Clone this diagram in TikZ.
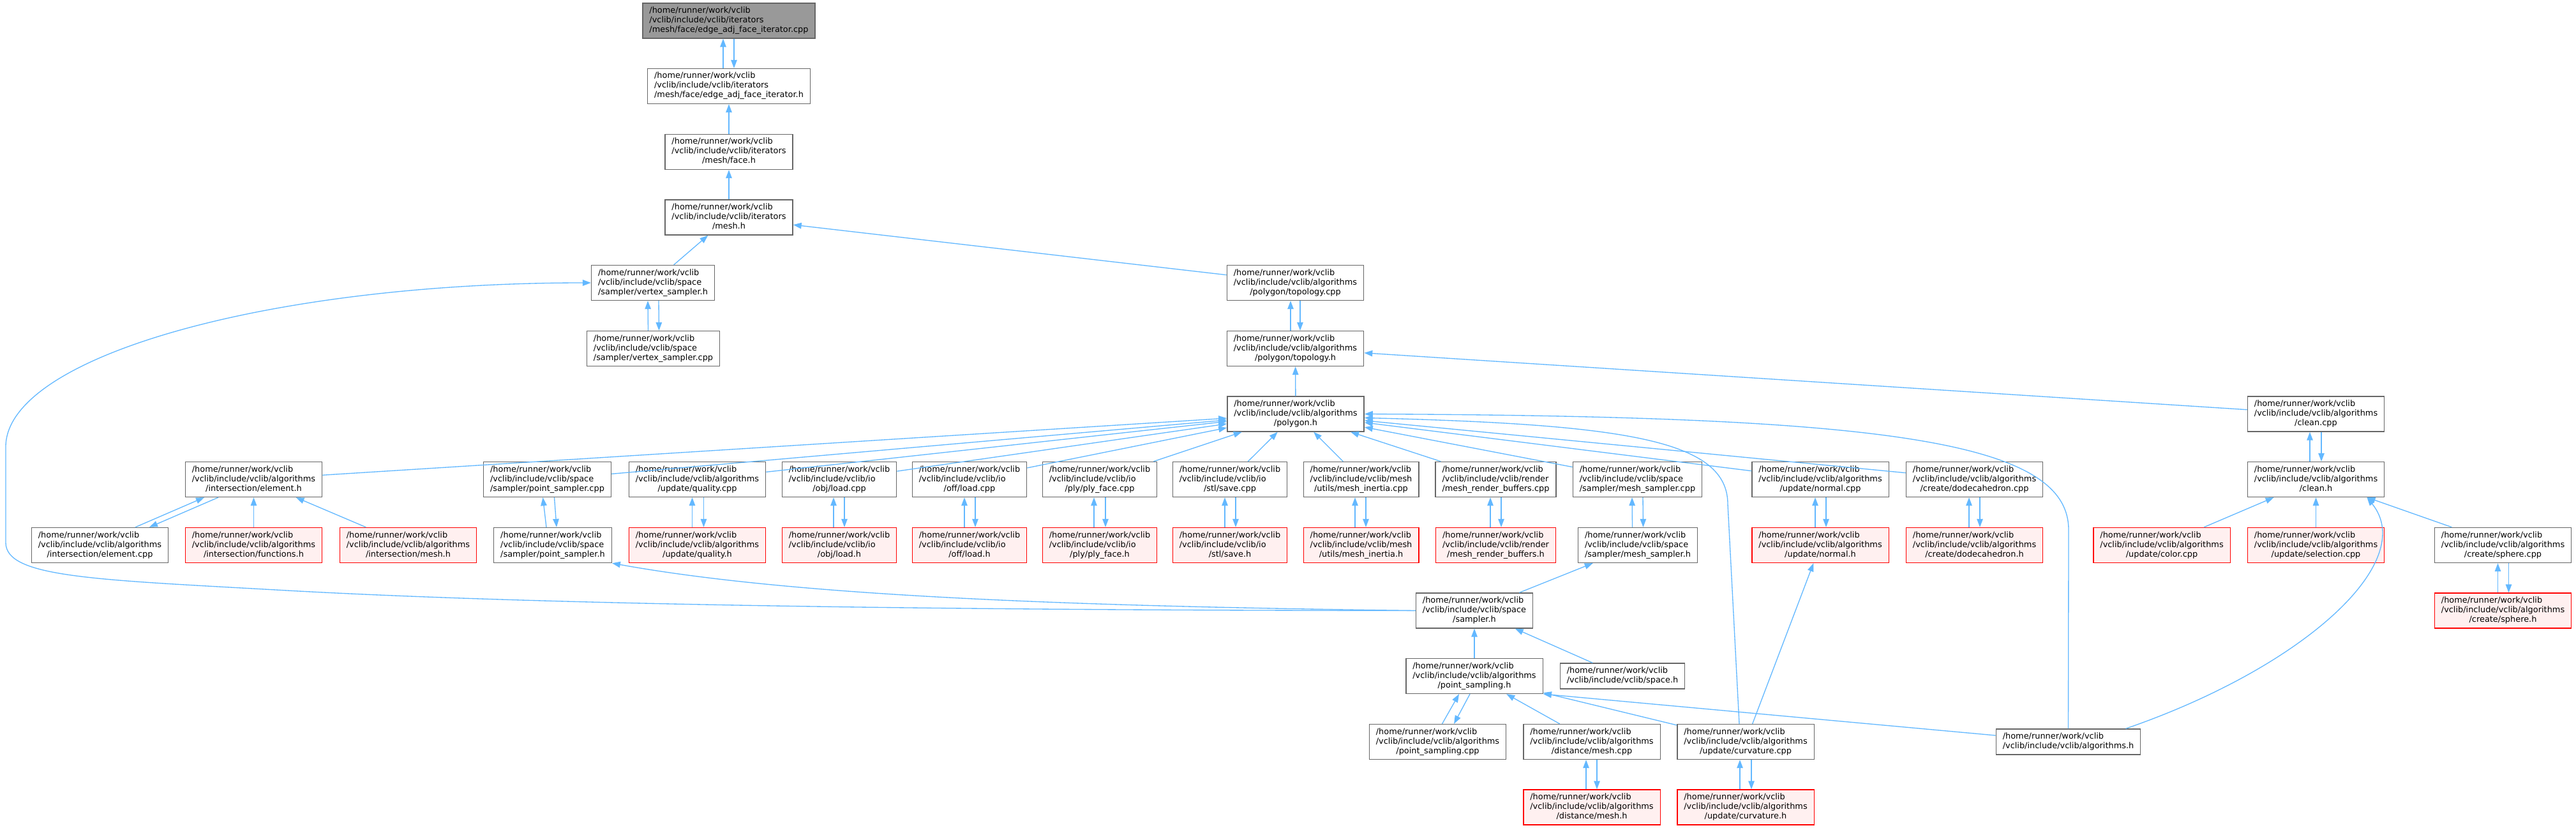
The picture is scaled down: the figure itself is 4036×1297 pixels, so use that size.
\documentclass[tikz,border=0pt]{standalone}
\usepackage{fontspec}
\setmainfont{DejaVu Sans}
\usepackage{tikz}
\usetikzlibrary{arrows.meta}
\definecolor{edgeblue}{HTML}{63B8FF}
\definecolor{boxgray}{HTML}{666666}
\definecolor{curgray}{HTML}{999999}
\definecolor{redfill}{HTML}{FFF0F0}
\newcommand{\filefont}{\fontsize{12.9}{15}\selectfont}
\newcommand{\vpath}[2]{\begin{tabular}{@{}l@{}}/home/runner/work/vclib\\/vclib/include/vclib/#1\\\multicolumn{1}{@{}c@{}}{#2}\end{tabular}}
\newcommand{\vshort}[1]{\begin{tabular}{@{}l@{}}/home/runner/work/vclib\\/vclib/include/vclib/#1\end{tabular}}

\begin{document}
\begin{tikzpicture}[x=1pt,y=-1pt,>={Triangle[length=13pt,width=9.5pt]},
    file/.style={draw=boxgray,fill=white,line width=1.33pt,inner xsep=10.5pt,inner ysep=5pt,font=\filefont},
    redfile/.style={file,draw=red,fill=redfill},
    curfile/.style={file,fill=curgray},
    inc/.style={draw=edgeblue,line width=1.33pt}]
    \useasboundingbox (0,0) rectangle (4036,1297);
    % iterator chain
    \node[curfile] (cpp) at (1142,32.5) {\vpath{iterators}{/mesh/face/edge\_adj\_face\_iterator.cpp}};
    \node[file] (iterh) at (1142,135) {\vpath{iterators}{/mesh/face/edge\_adj\_face\_iterator.h}};
    \node[file] (faceh) at (1142,238) {\vpath{iterators}{/mesh/face.h}};
    \node[file] (meshh) at (1142,340.5) {\vpath{iterators}{/mesh.h}};
    \node[file] (vsamph) at (1023,443) {\vpath{space}{/sampler/vertex\_sampler.h}};
    \node[file] (vsampcpp) at (1023.5,546) {\vpath{space}{/sampler/vertex\_sampler.cpp}};
    \node[file] (topocpp) at (2029.5,443) {\vpath{algorithms}{/polygon/topology.cpp}};
    \node[file] (topoh) at (2029.5,546) {\vpath{algorithms}{/polygon/topology.h}};
    \node[file] (polyh) at (2030,648.5) {\vpath{algorithms}{/polygon.h}};
    \node[file] (cleancpp) at (3628.5,648.5) {\vpath{algorithms}{/clean.cpp}};
    % files including polygon.h
    \node[file] (elemh) at (397.5,751) {\vpath{algorithms}{/intersection/element.h}};
    \node[file] (psampcpp) at (857.5,751) {\vpath{space}{/sampler/point\_sampler.cpp}};
    \node[file] (qualcpp) at (1092.5,751) {\vpath{algorithms}{/update/quality.cpp}};
    \node[file] (objcpp) at (1315,751) {\vpath{io}{/obj/load.cpp}};
    \node[file] (offcpp) at (1519,751) {\vpath{io}{/off/load.cpp}};
    \node[file] (plycpp) at (1723,751) {\vpath{io}{/ply/ply\_face.cpp}};
    \node[file] (stlcpp) at (1927,751) {\vpath{io}{/stl/save.cpp}};
    \node[file] (inertcpp) at (2132.5,751) {\vpath{mesh}{/utils/mesh\_inertia.cpp}};
    \node[file] (rendcpp) at (2343.5,751) {\vpath{render}{/mesh\_render\_buffers.cpp}};
    \node[file] (msampcpp) at (2565.5,751) {\vpath{space}{/sampler/mesh\_sampler.cpp}};
    \node[file] (normcpp) at (2852,751) {\vpath{algorithms}{/update/normal.cpp}};
    \node[file] (dodecpp) at (3093.5,751) {\vpath{algorithms}{/create/dodecahedron.cpp}};
    \node[file] (cleanh) at (3628.5,751) {\vpath{algorithms}{/clean.h}};
    % headers
    \node[file] (elemcpp) at (156.5,854) {\vpath{algorithms}{/intersection/element.cpp}};
    \node[redfile] (funch) at (397.5,854) {\vpath{algorithms}{/intersection/functions.h}};
    \node[redfile] (imeshh) at (639.5,854) {\vpath{algorithms}{/intersection/mesh.h}};
    \node[file] (psamph) at (866,854) {\vpath{space}{/sampler/point\_sampler.h}};
    \node[redfile] (qualh) at (1092.5,854) {\vpath{algorithms}{/update/quality.h}};
    \node[redfile] (objh) at (1315,854) {\vpath{io}{/obj/load.h}};
    \node[redfile] (offh) at (1519,854) {\vpath{io}{/off/load.h}};
    \node[redfile] (plyh) at (1723,854) {\vpath{io}{/ply/ply\_face.h}};
    \node[redfile] (stlh) at (1927,854) {\vpath{io}{/stl/save.h}};
    \node[redfile] (inerth) at (2132.5,854) {\vpath{mesh}{/utils/mesh\_inertia.h}};
    \node[redfile] (rendh) at (2343.5,854) {\vpath{render}{/mesh\_render\_buffers.h}};
    \node[file] (msamph) at (2566,854) {\vpath{space}{/sampler/mesh\_sampler.h}};
    \node[redfile] (normh) at (2852,854) {\vpath{algorithms}{/update/normal.h}};
    \node[redfile] (dodeh) at (3093.5,854) {\vpath{algorithms}{/create/dodecahedron.h}};
    \node[redfile] (colorcpp) at (3387,854) {\vpath{algorithms}{/update/color.cpp}};
    \node[redfile] (selcpp) at (3628.5,854) {\vpath{algorithms}{/update/selection.cpp}};
    \node[file] (spherecpp) at (3921.5,854) {\vpath{algorithms}{/create/sphere.cpp}};
    \node[file] (samplerh) at (2310,956.5) {\vpath{space}{/sampler.h}};
    \node[redfile] (sphereh) at (3921.5,956.5) {\vpath{algorithms}{/create/sphere.h}};
    \node[file] (psamplingh) at (2310,1059) {\vpath{algorithms}{/point\_sampling.h}};
    \node[file] (spaceh) at (2542,1059) {\vshort{space.h}};
    \node[file] (psamplingcpp) at (2252.5,1162) {\vpath{algorithms}{/point\_sampling.cpp}};
    \node[file] (distcpp) at (2494,1162) {\vpath{algorithms}{/distance/mesh.cpp}};
    \node[file] (curvcpp) at (2735,1162) {\vpath{algorithms}{/update/curvature.cpp}};
    \node[file] (algh) at (3240.5,1162) {\vshort{algorithms.h}};
    \node[redfile] (disth) at (2494,1264.5) {\vpath{algorithms}{/distance/mesh.h}};
    \node[redfile] (curvh) at (2735,1264.5) {\vpath{algorithms}{/update/curvature.h}};

    % upper part
    \draw[inc,<-] ([xshift=-9pt]cpp.south) -- ([xshift=-9pt]iterh.north);
    \draw[inc,->] ([xshift=8pt]cpp.south) -- ([xshift=8pt]iterh.north);
    \draw[inc,<-] (iterh) -- (faceh);
    \draw[inc,<-] (faceh) -- (meshh);
    \draw[inc,<-] (meshh) -- (vsamph);
    \draw[inc,<-] (meshh) -- (topocpp);
    \draw[inc,<-] ([xshift=-8pt]vsamph.south) -- ([xshift=-8pt]vsampcpp.north);
    \draw[inc,->] ([xshift=9pt]vsamph.south) -- ([xshift=9pt]vsampcpp.north);
    \draw[inc,<-] (vsamph.west) .. controls (421,443) and (9,559) .. (9,700) -- (9,850)
        .. controls (9,905) and (150,908) .. (450,925) .. controls (900,950) and (1600,956) .. (samplerh.west);
    \draw[inc,<-] ([xshift=-7.5pt]topocpp.south) -- ([xshift=-7.5pt]topoh.north);
    \draw[inc,->] ([xshift=7.5pt]topocpp.south) -- ([xshift=7.5pt]topoh.north);
    \draw[inc,<-] (topoh) -- (polyh);
    \draw[inc,<-] (topoh) -- (cleancpp);

    % polygon.h
    \draw[inc,<-] (polyh) -- (elemh);
    \draw[inc,<-] (polyh) -- (psampcpp);
    \draw[inc,<-] (polyh) -- (qualcpp);
    \draw[inc,<-] (polyh) -- (objcpp);
    \draw[inc,<-] (polyh) -- (offcpp);
    \draw[inc,<-] (polyh) -- (plycpp);
    \draw[inc,<-] (polyh) -- (stlcpp);
    \draw[inc,<-] (polyh) -- (inertcpp);
    \draw[inc,<-] (polyh) -- (rendcpp);
    \draw[inc,<-] (polyh) -- (msampcpp);
    \draw[inc,<-] (polyh) -- (normcpp);
    \draw[inc,<-] (polyh) -- (dodecpp);
    \draw[inc,<-] ([yshift=-6pt]polyh.east) .. controls (2550,665) and (2707,690) .. (2707,790) -- ([xshift=-10pt]curvcpp.north);
    \draw[inc,<-] (polyh.east) .. controls (2950,652) and (3241,690) .. (3241,830) -- (algh.north);

    % pairs and row 9
    \draw[inc,<-] ([xshift=-77.5pt]elemh.south) -- ([xshift=55.5pt]elemcpp.north);
    \draw[inc,->] ([xshift=-55.5pt]elemh.south) -- ([xshift=77.5pt]elemcpp.north);
    \draw[inc,<-] (elemh) -- (funch);
    \draw[inc,<-] (elemh) -- (imeshh);
    \draw[inc,<-] ([xshift=-7pt]psampcpp.south) -- ([xshift=-10pt]psamph.north);
    \draw[inc,->] ([xshift=11pt]psampcpp.south) -- ([xshift=6pt]psamph.north);
    \draw[inc,<-] ([xshift=-8pt]qualcpp.south) -- ([xshift=-8pt]qualh.north);
    \draw[inc,->] ([xshift=10pt]qualcpp.south) -- ([xshift=10pt]qualh.north);
    \draw[inc,<-] ([xshift=-9pt]objcpp.south) -- ([xshift=-9pt]objh.north);
    \draw[inc,->] ([xshift=8pt]objcpp.south) -- ([xshift=8pt]objh.north);
    \draw[inc,<-] ([xshift=-8pt]offcpp.south) -- ([xshift=-8pt]offh.north);
    \draw[inc,->] ([xshift=9pt]offcpp.south) -- ([xshift=9pt]offh.north);
    \draw[inc,<-] ([xshift=-9pt]plycpp.south) -- ([xshift=-9pt]plyh.north);
    \draw[inc,->] ([xshift=9pt]plycpp.south) -- ([xshift=9pt]plyh.north);
    \draw[inc,<-] ([xshift=-8pt]stlcpp.south) -- ([xshift=-8pt]stlh.north);
    \draw[inc,->] ([xshift=9pt]stlcpp.south) -- ([xshift=9pt]stlh.north);
    \draw[inc,<-] ([xshift=-9.5pt]inertcpp.south) -- ([xshift=-9.5pt]inerth.north);
    \draw[inc,->] ([xshift=7.5pt]inertcpp.south) -- ([xshift=7.5pt]inerth.north);
    \draw[inc,<-] ([xshift=-8.5pt]rendcpp.south) -- ([xshift=-8.5pt]rendh.north);
    \draw[inc,->] ([xshift=8.5pt]rendcpp.south) -- ([xshift=8.5pt]rendh.north);
    \draw[inc,<-] ([xshift=-8.5pt]msampcpp.south) -- ([xshift=-8.5pt]msamph.north);
    \draw[inc,->] ([xshift=8.5pt]msampcpp.south) -- ([xshift=8.5pt]msamph.north);
    \draw[inc,<-] ([xshift=-8pt]normcpp.south) -- ([xshift=-8pt]normh.north);
    \draw[inc,->] ([xshift=9pt]normcpp.south) -- ([xshift=9pt]normh.north);
    \draw[inc,<-] ([xshift=-8.5pt]dodecpp.south) -- ([xshift=-8.5pt]dodeh.north);
    \draw[inc,->] ([xshift=8.5pt]dodecpp.south) -- ([xshift=8.5pt]dodeh.north);
    \draw[inc,<-] ([xshift=-9.5pt]cleancpp.south) -- ([xshift=-9.5pt]cleanh.north);
    \draw[inc,->] ([xshift=8.5pt]cleancpp.south) -- ([xshift=8.5pt]cleanh.north);
    \draw[inc,<-] (cleanh) -- (colorcpp);
    \draw[inc,<-] (cleanh) -- (selcpp);
    \draw[inc,<-] (cleanh) -- (spherecpp);
    \draw[inc,<-] ([xshift=80pt]cleanh.south) .. controls (3790,880) and (3610,1045) .. ([xshift=90pt]algh.north);
    \draw[inc,<-] ([xshift=-8pt]spherecpp.south) -- ([xshift=-8pt]sphereh.north);
    \draw[inc,->] ([xshift=9pt]spherecpp.south) -- ([xshift=9pt]sphereh.north);

    % sampler.h and below
    \draw[inc,<-] (psamph.south east) .. controls (1250,935) and (1700,950) .. (samplerh.west);
    \draw[inc,<-] (msamph) -- (samplerh);
    \draw[inc,<-] (samplerh) -- (psamplingh);
    \draw[inc,<-] (samplerh) -- (spaceh);
    \draw[inc,<-] ([xshift=-24pt]psamplingh.south) -- ([xshift=7pt]psamplingcpp.north);
    \draw[inc,->] ([xshift=-7pt]psamplingh.south) -- ([xshift=25.5pt]psamplingcpp.north);
    \draw[inc,<-] (psamplingh) -- (distcpp);
    \draw[inc,<-] (psamplingh) -- (curvcpp);
    \draw[inc,<-] (psamplingh.south east) -- ([yshift=10pt]algh.west);
    \draw[inc,<-] (normh) -- (curvcpp);
    \draw[inc,<-] ([xshift=-9pt]distcpp.south) -- ([xshift=-9pt]disth.north);
    \draw[inc,->] ([xshift=8pt]distcpp.south) -- ([xshift=8pt]disth.north);
    \draw[inc,<-] ([xshift=-9pt]curvcpp.south) -- ([xshift=-9pt]curvh.north);
    \draw[inc,->] ([xshift=9pt]curvcpp.south) -- ([xshift=9pt]curvh.north);
\end{tikzpicture}
\end{document}
